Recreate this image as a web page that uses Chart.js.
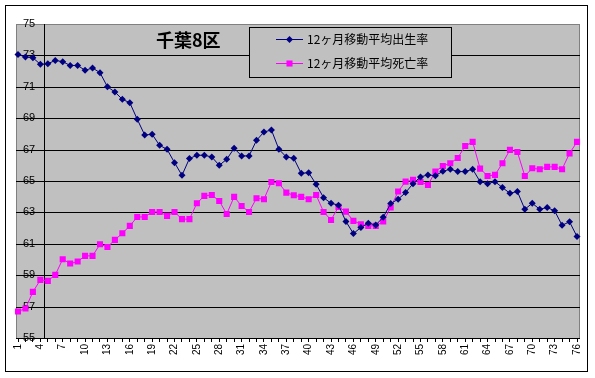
<!DOCTYPE html>
<html>
<head>
<meta charset="utf-8">
<script src="https://cdn.jsdelivr.net/npm/chart.js@4.4.1/dist/chart.umd.min.js"></script>
<style>
html, body { margin: 0; padding: 0; background: #fff; }
</style>
</head>
<body>
<canvas id="chart_canvas" width="595" height="378"></canvas>
<script>
const chart_title = "千葉8区";
const series_names = ["12ヶ月移動平均出生率", "12ヶ月移動平均死亡率"];

const months = [
    "1","2","3","4","5","6","7","8","9","10","11","12","13","14","15","16","17","18","19","20",
    "21","22","23","24","25","26","27","28","29","30","31","32","33","34","35","36","37","38","39","40",
    "41","42","43","44","45","46","47","48","49","50","51","52","53","54","55","56","57","58","59","60",
    "61","62","63","64","65","66","67","68","69","70","71","72","73","74","75","76"
];

const birth_rate = [
    73.06, 72.90, 72.85, 72.43, 72.47, 72.68, 72.60, 72.36, 72.36, 72.05,
    72.20, 71.90, 71.00, 70.67, 70.20, 69.99, 68.93, 67.93, 67.97, 67.27,
    67.02, 66.17, 65.36, 66.43, 66.64, 66.64, 66.53, 66.00, 66.38, 67.08,
    66.60, 66.60, 67.59, 68.12, 68.25, 67.02, 66.53, 66.45, 65.49, 65.53,
    64.79, 63.94, 63.58, 63.46, 62.42, 61.65, 62.04, 62.31, 62.20, 62.69,
    63.56, 63.84, 64.26, 64.83, 65.26, 65.39, 65.34, 65.62, 65.75, 65.60,
    65.60, 65.75, 64.96, 64.83, 64.96, 64.58, 64.22, 64.33, 63.20, 63.58,
    63.20, 63.31, 63.10, 62.18, 62.40, 61.46
];

const death_rate = [
    56.69, 56.88, 57.94, 58.70, 58.64, 59.02, 60.02, 59.74, 59.87, 60.23,
    60.23, 60.97, 60.80, 61.25, 61.67, 62.14, 62.71, 62.71, 63.03, 63.03,
    62.78, 63.03, 62.57, 62.57, 63.58, 64.05, 64.11, 63.73, 62.90, 63.99,
    63.41, 63.03, 63.90, 63.84, 64.94, 64.86, 64.26, 64.09, 63.99, 63.84,
    64.11, 63.03, 62.52, 63.35, 63.05, 62.46, 62.25, 62.14, 62.14, 62.42,
    63.31, 64.33, 64.96, 65.07, 64.94, 64.75, 65.60, 65.96, 66.13, 66.47,
    67.23, 67.49, 65.79, 65.32, 65.39, 66.13, 66.98, 66.85, 65.32, 65.81,
    65.75, 65.90, 65.90, 65.75, 66.76, 67.49
];

const y_min = 55;
const y_max = 75;
const y_step = 2;

const NAVY = "#000080";
const MAGENTA = "#ff00ff";
const CJK = "'Noto Sans CJK JP', sans-serif";
const LATIN = "'Liberation Sans', Arial, sans-serif";

// plot area is a little wider than the span of the points
const PLOT_PAD_LEFT = 2;
const PLOT_PAD_RIGHT = 3;

function draw_marker(ctx, style, x, y, r, color) {
    ctx.fillStyle = color;
    ctx.beginPath();
    if (style === "rectRot") {
        ctx.moveTo(x, y - r);
        ctx.lineTo(x + r, y);
        ctx.lineTo(x, y + r);
        ctx.lineTo(x - r, y);
        ctx.closePath();
    } else {
        let s = Math.SQRT1_2 * r;
        ctx.rect(x - s, y - s, 2 * s, 2 * s);
    }
    ctx.fill();
}

const excel_frame = {
    id: "excel_frame",
    beforeDraw(chart) {
        let ctx = chart.ctx;
        let a = chart.chartArea;
        let left = a.left - PLOT_PAD_LEFT;
        let right = a.right + PLOT_PAD_RIGHT;
        ctx.save();
        ctx.fillStyle = "#fff";
        ctx.fillRect(0, 0, chart.width, chart.height);
        ctx.strokeStyle = "#000";
        ctx.lineWidth = 1;
        ctx.strokeRect(5.5, 5.5, 582, 366);
        ctx.fillStyle = "#c0c0c0";
        ctx.fillRect(left, a.top, right - left, a.bottom - a.top);
        ctx.strokeStyle = "#808080";
        ctx.strokeRect(left + 0.5, a.top + 0.5, right - left - 1, a.bottom - a.top);

        // horizontal gridlines
        let ys = chart.scales.y;
        ys.ticks.forEach((t) => {
            if (t.value === y_max) return;
            let py = Math.round(ys.getPixelForValue(t.value)) + 0.5;
            ctx.strokeStyle = "#000";
            ctx.beginPath();
            ctx.moveTo(left, py);
            ctx.lineTo(right, py);
            ctx.stroke();
        });
        ctx.restore();
    },
    beforeDatasetsDraw(chart) {
        let ctx = chart.ctx;
        let a = chart.chartArea;
        ctx.save();

        // vertical axis crosses between category 4 and 5
        let ax = Math.round(chart.scales.x.getPixelForValue(3.5)) + 0.5;
        ctx.strokeStyle = "#000";
        ctx.lineWidth = 1;
        ctx.beginPath();
        ctx.moveTo(ax, a.top);
        ctx.lineTo(ax, a.bottom);
        ctx.stroke();

        // title
        ctx.fillStyle = "#000";
        ctx.font = "bold 18px " + CJK;
        ctx.textBaseline = "middle";
        ctx.textAlign = "left";
        ctx.fillText(chart_title, 156, 40);

        // legend
        let box = { left: 249, top: 27, right: 452, bottom: 78 };
        ctx.fillStyle = "#c0c0c0";
        ctx.fillRect(box.left, box.top, box.right - box.left, box.bottom - box.top);
        ctx.strokeStyle = "#000";
        ctx.strokeRect(box.left + 0.5, box.top + 0.5, box.right - box.left - 1, box.bottom - box.top - 1);
        let rows = [39.5, 63.5];
        chart.data.datasets.forEach((ds, i) => {
            let y = rows[i];
            ctx.strokeStyle = ds.borderColor;
            ctx.lineWidth = 1;
            ctx.beginPath();
            ctx.moveTo(276, y);
            ctx.lineTo(303, y);
            ctx.stroke();
            draw_marker(ctx, ds.pointStyle, 289.5, y, ds.pointRadius, ds.pointBackgroundColor);
            ctx.fillStyle = "#000";
            ctx.font = "12px " + CJK;
            ctx.textBaseline = "middle";
            ctx.fillText(ds.label, 307, y);
        });
        ctx.restore();
    }
};

new Chart(document.getElementById("chart_canvas"), {
    type: "line",
    data: {
        labels: months,
        datasets: [
            {
                label: series_names[0],
                data: birth_rate,
                borderColor: NAVY,
                borderWidth: 1,
                pointStyle: "rectRot",
                pointRadius: 3.5,
                pointBackgroundColor: NAVY,
                pointBorderColor: NAVY,
                pointBorderWidth: 0,
                tension: 0
            },
            {
                label: series_names[1],
                data: death_rate,
                borderColor: MAGENTA,
                borderWidth: 1,
                pointStyle: "rect",
                pointRadius: 4.3,
                pointBackgroundColor: MAGENTA,
                pointBorderColor: MAGENTA,
                pointBorderWidth: 0,
                tension: 0
            }
        ]
    },
    options: {
        responsive: false,
        animation: false,
        devicePixelRatio: 1,
        layout: {
            padding: { left: 18, top: 24, right: 18, bottom: 0 }
        },
        plugins: {
            legend: { display: false },
            title: { display: false },
            tooltip: { enabled: false }
        },
        scales: {
            x: {
                offset: false,
                afterFit(scale) { scale.height = 40; },
                grid: {
                    drawOnChartArea: false,
                    drawTicks: true,
                    tickLength: 4,
                    color: "#000"
                },
                border: { display: false },
                ticks: {
                    autoSkip: false,
                    minRotation: 90,
                    maxRotation: 90,
                    padding: 2,
                    color: "#000",
                    font: { family: LATIN, size: 10 },
                    callback: function (value, index) {
                        return index % 3 === 0 ? this.getLabelForValue(value) : "";
                    }
                }
            },
            y: {
                min: y_min,
                max: y_max,
                afterFit(scale) { scale.width = 0; },
                grid: { display: false },
                border: { display: false },
                ticks: {
                    stepSize: y_step,
                    mirror: true,
                    padding: 5,
                    color: "#000",
                    font: { family: LATIN, size: 11 }
                }
            }
        }
    },
    plugins: [excel_frame]
});
</script>
</body>
</html>
